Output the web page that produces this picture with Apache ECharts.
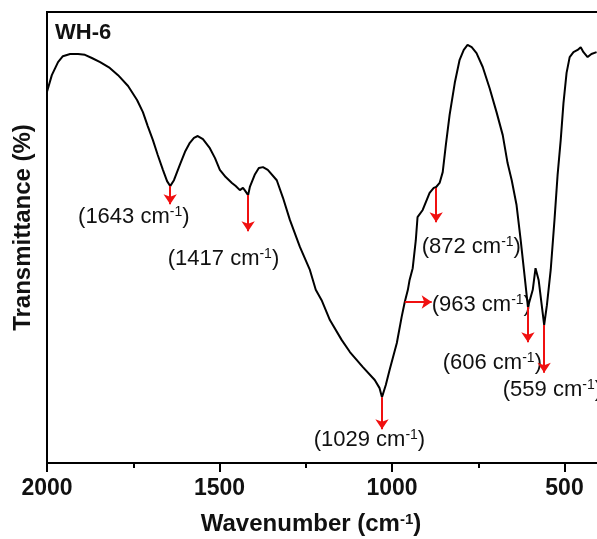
<!DOCTYPE html>
<html>
<head>
<meta charset="utf-8">
<script src="https://cdn.jsdelivr.net/npm/echarts@6/dist/echarts.min.js"></script>
<style>
  html, body { margin: 0; padding: 0; background: #fff; }
  #chart { width: 597px; height: 539px; }
</style>
</head>
<body>
<div id="chart"></div>
<script>
// FTIR spectrum of WH-6
const wavenumber = [2000, 1986, 1968, 1954, 1933, 1910, 1890, 1870, 1846, 1818, 1794, 1765, 1739, 1722, 1708,
  1693, 1679, 1664, 1652, 1643, 1632, 1615, 1600, 1586, 1574, 1563, 1548, 1528, 1513, 1499, 1482, 1464, 1453,
  1441, 1432, 1427, 1417, 1412, 1398, 1386, 1374, 1360, 1334, 1316, 1296, 1267, 1238, 1221, 1204, 1180, 1146,
  1122, 1085, 1050, 1036, 1029, 1018, 1007, 986, 972, 963, 954, 949, 940, 931, 926, 911, 891, 879, 872, 862,
  853, 844, 833, 818, 804, 792, 781, 769, 755, 737, 717, 697, 679, 665, 653, 639, 627, 616, 606, 592, 584, 575,
  566, 559, 551, 540, 529, 520, 511, 503, 494, 485, 474, 462, 453, 445, 433, 422, 407];
const transmittance = [82.3, 86.0, 88.9, 90.2, 90.7, 90.7, 90.5, 89.8, 88.9, 87.6, 86.0, 83.6, 80.5, 77.8, 74.7,
  71.6, 68.3, 65.0, 62.5, 61.4, 62.7, 66.1, 69.0, 71.0, 72.1, 72.5, 71.8, 69.8, 67.6, 65.0, 63.4, 62.1, 61.4,
  60.5, 61.0, 60.5, 59.4, 61.2, 63.9, 65.4, 65.6, 65.0, 62.7, 58.8, 53.9, 47.9, 42.8, 38.4, 36.1, 31.7, 27.3,
  24.6, 21.3, 18.4, 16.6, 14.6, 17.3, 20.6, 26.6, 32.4, 35.7, 38.4, 40.6, 43.2, 49.4, 54.5, 56.1, 59.9, 61.0, 61.2, 62.1,
  64.5, 70.5, 77.2, 84.3, 89.4, 91.6, 92.7, 92.2, 90.9, 87.8, 83.1, 77.8, 72.7, 66.5, 62.7, 57.2, 49.4, 41.7, 34.6, 38.4, 43.2, 40.6,
  35.0, 30.6, 35.0, 42.8, 53.9, 63.9, 71.6, 79.8, 86.5, 90.0, 91.1, 91.6, 92.2, 91.1, 90.0, 90.7, 91.1];

// band annotations
const bandNames = ['1643', '1417', '1029', '963', '872', '606', '559'];
const arrowFrom = [[1643, 61.4], [1417, 59.4], [1029, 14.6], [963, 35.7], [872, 61.0], [606, 34.6], [559, 30.6]];
const arrowTo = [[1643, 57.4], [1417, 51.4], [1029, 7.5], [885, 35.7], [872, 53.4], [606, 26.8], [559, 20.0]];
const labelAt = [[1910, 54.5], [1650, 45.2], [1227, 5.1], [885, 35.0], [914, 47.9], [853, 22.2], [679, 16.2]];

const majorTicks = [2000, 1500, 1000, 500];
const minorTicks = [1750, 1250, 750];

const font = 'Arial, "Liberation Sans", sans-serif';
const chart = echarts.init(document.getElementById('chart'));

const option = {
  animation: false,
  backgroundColor: '#fff',
  title: {
    text: 'WH-6',
    left: 55,
    top: 22,
    padding: 0,
    textStyle: { fontFamily: font, fontSize: 22, fontWeight: 'bold', color: '#111' }
  },
  grid: {
    left: 47, top: 12, width: 552, bottom: 76,
    show: true, borderColor: '#000', borderWidth: 2,
    containLabel: false, outerBoundsMode: 'none'
  },
  xAxis: [{
    type: 'value',
    position: 'bottom',
    min: 400, max: 2000,
    inverse: true,
    name: 'Wavenumber (cm{s|-1})',
    nameLocation: 'middle',
    nameGap: 49,
    nameTextStyle: {
      fontFamily: font, fontSize: 24, fontWeight: 'bold', color: '#111',
      padding: [0, 24, 0, 0],
      rich: { s: { fontFamily: font, fontSize: 15, fontWeight: 'bold', verticalAlign: 'top', color: '#111' } }
    },
    axisLine: { show: true, lineStyle: { color: '#000', width: 2 } },
    axisTick: { show: true, customValues: majorTicks, length: 9, lineStyle: { color: '#000', width: 2 } },
    axisLabel: {
      customValues: majorTicks, margin: 14,
      formatter: v => String(v),
      fontFamily: font, fontSize: 23, fontWeight: 'bold', color: '#111'
    },
    splitLine: { show: false }
  }, {
    type: 'value',
    position: 'bottom',
    min: 400, max: 2000,
    inverse: true,
    axisLine: { show: false },
    axisTick: { show: true, customValues: minorTicks, length: 5, lineStyle: { color: '#000', width: 2 } },
    axisLabel: { show: false },
    splitLine: { show: false }
  }],
  yAxis: {
    type: 'value',
    min: 0, max: 100,
    name: 'Transmittance (%)',
    nameLocation: 'middle',
    nameGap: 12,
    nameTextStyle: {
      fontFamily: font, fontSize: 24, fontWeight: 'bold', color: '#111',
      padding: [0, 0, 0, 20]
    },
    axisLine: { show: true, lineStyle: { color: '#000', width: 2 } },
    axisTick: { show: false },
    axisLabel: { show: false },
    splitLine: { show: false }
  },
  series: [{
    type: 'line',
    data: wavenumber.map((w, i) => [w, transmittance[i]]),
    showSymbol: false,
    lineStyle: { color: '#000', width: 2 },
    z: 3,
    markLine: {
      silent: true,
      symbol: ['none', 'arrow'],
      symbolSize: 10,
      label: { show: false },
      lineStyle: { color: '#f01010', width: 2, type: 'solid' },
      data: arrowFrom.map((p, i) => [{ coord: p }, { coord: arrowTo[i] }])
    }
  }, {
    type: 'scatter',
    data: labelAt.map((p, i) => [p[0], p[1], bandNames[i]]),
    symbolSize: 0,
    silent: true,
    z: 2,
    itemStyle: { color: '#000', opacity: 1 },
    label: {
      show: true,
      position: 'right',
      distance: 0,
      color: '#111',
      opacity: 1,
      formatter: p => '{n|(' + p.value[2] + ' cm}{s|-1}{n|)}',
      rich: {
        n: { fontFamily: font, fontSize: 22, color: '#111', lineHeight: 24 },
        s: { fontFamily: font, fontSize: 14, color: '#111', verticalAlign: 'top', lineHeight: 14 }
      }
    }
  }]
};

chart.setOption(option);
</script>
</body>
</html>
